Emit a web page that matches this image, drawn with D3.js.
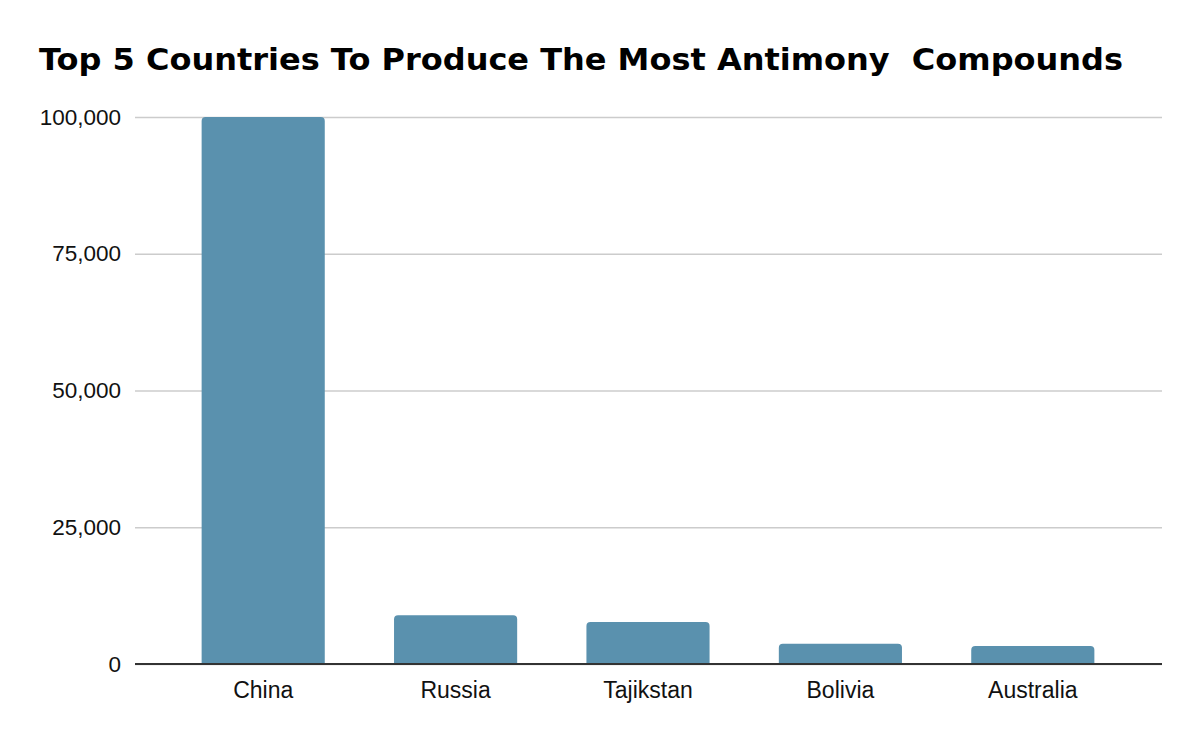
<!DOCTYPE html>
<html>
<head>
<meta charset="utf-8">
<script src="https://cdn.jsdelivr.net/npm/d3@7"></script>
<style>
  html, body { margin: 0; padding: 0; background: #fff; }
  svg { display: block; }
</style>
</head>
<body>
<svg id="chart" width="1200" height="742"></svg>
<script>
const titleText = "Top 5 Countries To Produce The Most Antimony  Compounds";
const categories = ["China", "Russia", "Tajikstan", "Bolivia", "Australia"];
const values = [100000, 8900, 7700, 3700, 3300];
const yTicks = [0, 25000, 50000, 75000, 100000];

const svg = d3.select("#chart");
const W = 1200, H = 742;

const y = d3.scaleLinear().domain([0, 100000]).range([664, 117]);
const x = d3.scaleBand().domain(categories).range([167, 1129])
  .paddingInner(0.36).paddingOuter(0.18);

svg.append("rect").attr("width", W).attr("height", H).attr("fill", "#fff");

svg.append("text")
  .attr("x", 39).attr("y", 70)
  .attr("font-family", "'DejaVu Sans', Verdana, sans-serif")
  .attr("font-weight", "bold")
  .attr("font-size", 30.5)
  .attr("fill", "#000")
  .attr("textLength", 1084)
  .attr("lengthAdjust", "spacingAndGlyphs")
  .attr("xml:space", "preserve")
  .style("white-space", "pre")
  .text(titleText);

// gridlines
const yAxis = d3.axisLeft(y).tickValues(yTicks)
  .tickSize(-(1162 - 135)).tickPadding(14)
  .tickFormat(d3.format(","));
const gy = svg.append("g").attr("transform", "translate(135,0)").call(yAxis);
gy.select(".domain").remove();
gy.selectAll(".tick line").attr("stroke", "#cccccc").attr("stroke-width", 1.5);
gy.selectAll(".tick text")
  .attr("font-family", "'Liberation Sans', Arial, sans-serif")
  .attr("font-size", 22.5).attr("fill", "#111");

// bars with rounded tops
function topRounded(x0, y0, w, h, r) {
  r = Math.min(r, h, w / 2);
  return `M${x0},${y0 + h}V${y0 + r}Q${x0},${y0} ${x0 + r},${y0}H${x0 + w - r}Q${x0 + w},${y0} ${x0 + w},${y0 + r}V${y0 + h}Z`;
}
svg.append("g").selectAll("path").data(categories).join("path")
  .attr("d", (c, i) => topRounded(x(c), y(values[i]), x.bandwidth(), y(0) - y(values[i]), 4))
  .attr("fill", "#5a91ae");

// baseline + x labels
const xAxis = d3.axisBottom(x).tickSize(0).tickPadding(18);
const gx = svg.append("g").attr("transform", `translate(0,${y(0)})`).call(xAxis);
gx.select(".domain").remove();
svg.append("line").attr("x1", 135).attr("x2", 1162).attr("y1", y(0)).attr("y2", y(0))
  .attr("stroke", "#333").attr("stroke-width", 2);
gx.selectAll(".tick text")
  .attr("font-family", "'Liberation Sans', Arial, sans-serif")
  .attr("font-size", 23).attr("fill", "#111");
</script>
</body>
</html>
